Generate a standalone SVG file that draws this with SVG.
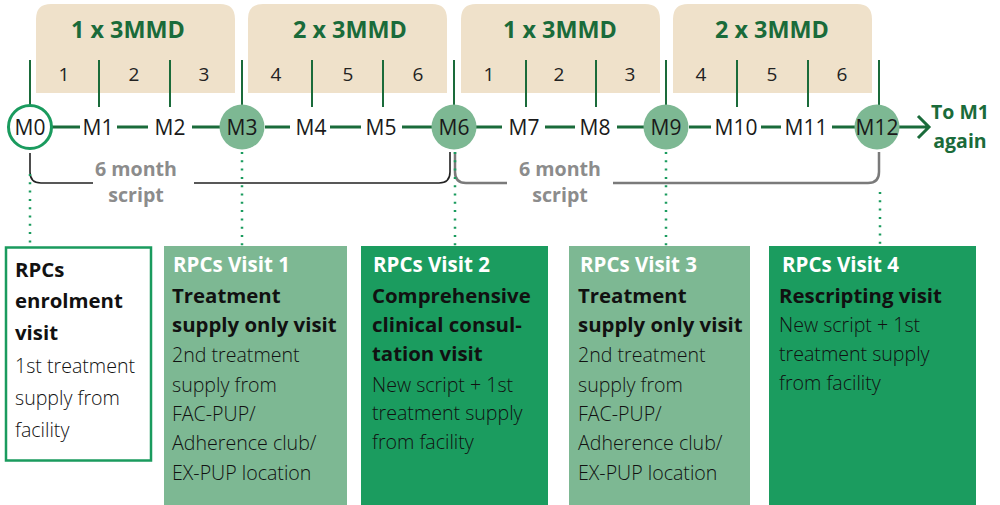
<svg xmlns="http://www.w3.org/2000/svg" width="1000" height="505" viewBox="0 0 1000 505">
<style>
.band{fill:#efe1ca}
.ttl{font-family:"Open Sans","Liberation Sans",sans-serif;font-weight:700;font-size:23.4px;fill:#1a6b3a;text-anchor:middle}
.num{font-family:"Open Sans","Liberation Sans",sans-serif;font-size:19px;fill:#222;text-anchor:middle}
.tick{stroke:#1a6b3a;stroke-width:2;fill:none}
.tl{stroke:#1a6b3a;stroke-width:3;fill:none}
.m{font-family:"Open Sans","Liberation Sans",sans-serif;font-size:21px;fill:#1a1a1a;text-anchor:middle}
.cf{fill:#7db893}
.co{fill:#fff;stroke:#1a9b5e;stroke-width:3}
.dot{stroke:#1a9b5e;stroke-width:2.5;stroke-dasharray:2 6.3;fill:none}
.br{fill:none;stroke:#222;stroke-width:1.6}
.brg{fill:none;stroke:#7a7a7a;stroke-width:2.5}
.six{font-family:"Open Sans","Liberation Sans",sans-serif;font-weight:700;font-size:19.6px;fill:#8c8c8c;text-anchor:middle}
.to{font-family:"Open Sans","Liberation Sans",sans-serif;font-weight:700;font-size:19.5px;fill:#1a6b3a;text-anchor:middle}
.hd{font-family:"Open Sans","Liberation Sans",sans-serif;font-weight:700;font-size:20.5px;fill:#fff}
.b{font-family:"Open Sans","Liberation Sans",sans-serif;font-weight:700;font-size:20.4px;fill:#111}
.t{font-family:"Open Sans","Liberation Sans",sans-serif;font-weight:300;font-size:19.6px;fill:#111}
.light{fill:#7db893}
.dark{fill:#1b9c5f}
</style>
<defs>
<path id="band" d="M0,93 V19 Q0,4 15,4 H184 Q199,4 199,19 V93 Z"/>
</defs>

<g id="bands">
<use href="#band" class="band" x="36"/>
<use href="#band" class="band" x="248"/>
<use href="#band" class="band" x="461"/>
<use href="#band" class="band" x="673"/>
<text class="ttl" x="128" y="38">1 x 3MMD</text>
<text class="ttl" x="350" y="38">2 x 3MMD</text>
<text class="ttl" x="560" y="38">1 x 3MMD</text>
<text class="ttl" x="772" y="38">2 x 3MMD</text>
<text class="num" x="64" y="81">1</text>
<text class="num" x="134" y="81">2</text>
<text class="num" x="204" y="81">3</text>
<text class="num" x="276" y="81">4</text>
<text class="num" x="348" y="81">5</text>
<text class="num" x="418" y="81">6</text>
<text class="num" x="489" y="81">1</text>
<text class="num" x="559" y="81">2</text>
<text class="num" x="630" y="81">3</text>
<text class="num" x="701" y="81">4</text>
<text class="num" x="772" y="81">5</text>
<text class="num" x="842" y="81">6</text>
</g>

<g id="connectors">
<path class="tick" d="M30,60V106M99,60V107M170,60V107M242,60V106M312,60V107M383,60V107M454,60V106M526,60V107M596,60V107M666,60V106M737,60V107M808,60V107M879,60V106"/>
<path class="tl" d="M52,127H80M117,127H148M192,127H220M265,127H290M330,127H361M402,127H432M476,127H502M545,127H575M617,127H645M689,127H711M761,127H781M832,127H855M899,127H928M918,116L929,127L918,138"/>
<path class="br" d="M30,153V172Q30,183 41,183H93M194,183H439Q450,183 450,172V152"/>
<path class="brg" d="M455,152V172Q455,183 466,183H507M613,183H868Q879,183 879,172V152"/>
<path class="dot" d="M30,174V247M242,152V247M455,152V247M666,152V247M880,192V247"/>
</g>

<g id="timeline">
<circle class="co" cx="30" cy="127" r="21.5"/>
<circle class="cf" cx="242" cy="127" r="22.5"/>
<circle class="cf" cx="454" cy="127" r="22.5"/>
<circle class="cf" cx="666" cy="127" r="22.5"/>
<circle class="cf" cx="877" cy="127" r="22.5"/>
<text class="m" x="30" y="135">M0</text>
<text class="m" x="98" y="135">M1</text>
<text class="m" x="170" y="135">M2</text>
<text class="m" x="242" y="135">M3</text>
<text class="m" x="311" y="135">M4</text>
<text class="m" x="381" y="135">M5</text>
<text class="m" x="454" y="135">M6</text>
<text class="m" x="524" y="135">M7</text>
<text class="m" x="595" y="135">M8</text>
<text class="m" x="666" y="135">M9</text>
<text class="m" x="736" y="135">M10</text>
<text class="m" x="806" y="135">M11</text>
<text class="m" x="877" y="135">M12</text>
<text class="to" x="960" y="119">To M1</text>
<text class="to" x="960" y="148">again</text>
<text class="six" x="136" y="176">6 month</text>
<text class="six" x="136" y="202">script</text>
<text class="six" x="560" y="176">6 month</text>
<text class="six" x="560" y="202">script</text>
</g>

<g id="box0">
<rect x="6" y="247.5" width="145" height="213" fill="#fff" stroke="#1a9b5e" stroke-width="2.5"/>
<text class="b" x="15" y="277">RPCs</text>
<text class="b" x="15" y="308">enrolment</text>
<text class="b" x="15" y="340">visit</text>
<text class="t" x="15" y="373">1st treatment</text>
<text class="t" x="15" y="405">supply from</text>
<text class="t" x="15" y="437">facility</text>
</g>

<g id="box1">
<rect class="light" x="164" y="246" width="183" height="259"/>
<text class="hd" x="173" y="272">RPCs Visit 1</text>
<text class="b" x="172" y="303">Treatment</text>
<text class="b" x="172" y="332">supply only visit</text>
<text class="t" x="172" y="362">2nd treatment</text>
<text class="t" x="172" y="392">supply from</text>
<text class="t" x="172" y="421">FAC-PUP/</text>
<text class="t" x="172" y="450">Adherence club/</text>
<text class="t" x="172" y="480">EX-PUP location</text>
</g>

<g id="box2">
<rect class="dark" x="361" y="246" width="187" height="259"/>
<text class="hd" x="373" y="272">RPCs Visit 2</text>
<text class="b" x="372" y="303">Comprehensive</text>
<text class="b" x="372" y="332">clinical consul-</text>
<text class="b" x="372" y="361">tation visit</text>
<text class="t" x="372" y="392">New script + 1st</text>
<text class="t" x="372" y="420">treatment supply</text>
<text class="t" x="372" y="449">from facility</text>
</g>

<g id="box3">
<rect class="light" x="569" y="246" width="181" height="259"/>
<text class="hd" x="580" y="272">RPCs Visit 3</text>
<text class="b" x="578" y="303">Treatment</text>
<text class="b" x="578" y="332">supply only visit</text>
<text class="t" x="578" y="362">2nd treatment</text>
<text class="t" x="578" y="392">supply from</text>
<text class="t" x="578" y="421">FAC-PUP/</text>
<text class="t" x="578" y="450">Adherence club/</text>
<text class="t" x="578" y="480">EX-PUP location</text>
</g>

<g id="box4">
<rect class="dark" x="769" y="246" width="207" height="259"/>
<text class="hd" x="782" y="272">RPCs Visit 4</text>
<text class="b" x="779" y="303">Rescripting visit</text>
<text class="t" x="779" y="332">New script + 1st</text>
<text class="t" x="779" y="361">treatment supply</text>
<text class="t" x="779" y="390">from facility</text>
</g>
</svg>
